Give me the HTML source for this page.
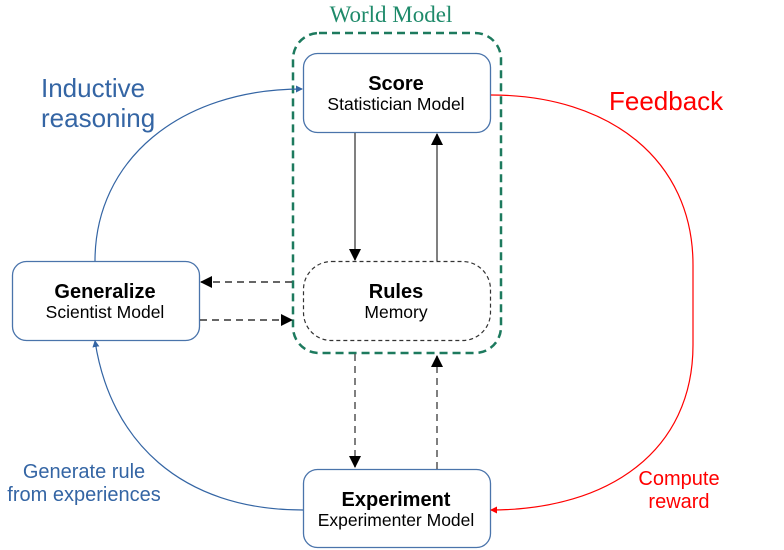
<!DOCTYPE html>
<html><head><meta charset="utf-8"><style>
html,body{margin:0;padding:0;background:#fff;}
svg{display:block;}
text{font-family:"Liberation Sans",sans-serif;}
</style></head><body>
<svg width="784" height="550" viewBox="0 0 784 550" xmlns="http://www.w3.org/2000/svg">
<defs>
<marker id="ab" markerWidth="12" markerHeight="12" refX="11" refY="6" orient="auto" markerUnits="userSpaceOnUse"><path d="M0,0 L12,6 L0,12 z" fill="#000"/></marker>
<marker id="ablue" markerWidth="7" markerHeight="7" refX="6" refY="3.5" orient="auto" markerUnits="userSpaceOnUse"><path d="M0,0 L7,3.5 L0,7 z" fill="#3465a4"/></marker>
<marker id="ared" markerWidth="7" markerHeight="7" refX="6" refY="3.5" orient="auto" markerUnits="userSpaceOnUse"><path d="M0,0 L7,3.5 L0,7 z" fill="#f00"/></marker>
</defs>
<text x="391" y="22" text-anchor="middle" style="font-family:'Liberation Serif',serif" font-size="23" fill="#1e8a6a">World Model</text>
<rect x="293" y="33" width="208" height="320" rx="26" fill="none" stroke="#1d7a5e" stroke-width="2.5" stroke-dasharray="8,5"/>
<rect x="303.5" y="53.5" width="187" height="79" rx="14" fill="#fff" stroke="#4a74ab" stroke-width="1.3"/>
<text x="396" y="90" text-anchor="middle" font-size="20" font-weight="bold">Score</text>
<text x="396" y="110" text-anchor="middle" font-size="17.5">Statistician Model</text>
<rect x="303.5" y="261.5" width="187" height="79" rx="28" fill="#fff" stroke="#333" stroke-width="1.2" stroke-dasharray="4,3"/>
<text x="396" y="298" text-anchor="middle" font-size="20" font-weight="bold">Rules</text>
<text x="396" y="318" text-anchor="middle" font-size="17.5">Memory</text>
<rect x="12.5" y="261.5" width="187" height="79" rx="14" fill="#fff" stroke="#4a74ab" stroke-width="1.3"/>
<text x="105" y="298" text-anchor="middle" font-size="20" font-weight="bold">Generalize</text>
<text x="105" y="318" text-anchor="middle" font-size="17.5">Scientist Model</text>
<rect x="303.5" y="469.5" width="187" height="78" rx="14" fill="#fff" stroke="#4a74ab" stroke-width="1.3"/>
<text x="396" y="506" text-anchor="middle" font-size="20" font-weight="bold">Experiment</text>
<text x="396" y="526" text-anchor="middle" font-size="17.5">Experimenter Model</text>
<line x1="355" y1="133" x2="355" y2="260" stroke="#555" stroke-width="1.5" marker-end="url(#ab)"/>
<line x1="437" y1="261" x2="437" y2="134" stroke="#555" stroke-width="1.5" marker-end="url(#ab)"/>
<line x1="292" y1="282" x2="201" y2="282" stroke="#333" stroke-width="1.5" stroke-dasharray="7,5" marker-end="url(#ab)"/>
<line x1="200" y1="320" x2="292" y2="320" stroke="#333" stroke-width="1.5" stroke-dasharray="7,5" marker-end="url(#ab)"/>
<line x1="355" y1="354" x2="355" y2="467" stroke="#555" stroke-width="1.5" stroke-dasharray="7,5" marker-end="url(#ab)"/>
<line x1="437" y1="469" x2="437" y2="356" stroke="#555" stroke-width="1.5" stroke-dasharray="7,5" marker-end="url(#ab)"/>
<path d="M95,261 C95,160 180,89 302,89" fill="none" stroke="#3465a4" stroke-width="1.2" marker-end="url(#ablue)"/>
<path d="M303,510 C180,510 110,440 95,341" fill="none" stroke="#3465a4" stroke-width="1.2" marker-end="url(#ablue)"/>
<path d="M491,95 C610,95 693,160 693,265 L693,345 C693,450 610,510 491,510" fill="none" stroke="#f00" stroke-width="1.2" marker-end="url(#ared)"/>
<text x="41" y="97" font-size="26" fill="#3465a4">Inductive</text>
<text x="41" y="127" font-size="26" fill="#3465a4">reasoning</text>
<text x="609" y="110" font-size="26" fill="#f00">Feedback</text>
<text x="84" y="478" text-anchor="middle" font-size="20" fill="#3465a4">Generate rule</text>
<text x="84" y="501" text-anchor="middle" font-size="20" fill="#3465a4">from experiences</text>
<text x="679" y="485" text-anchor="middle" font-size="20" fill="#f00">Compute</text>
<text x="679" y="508" text-anchor="middle" font-size="20" fill="#f00">reward</text>
</svg>
</body></html>
